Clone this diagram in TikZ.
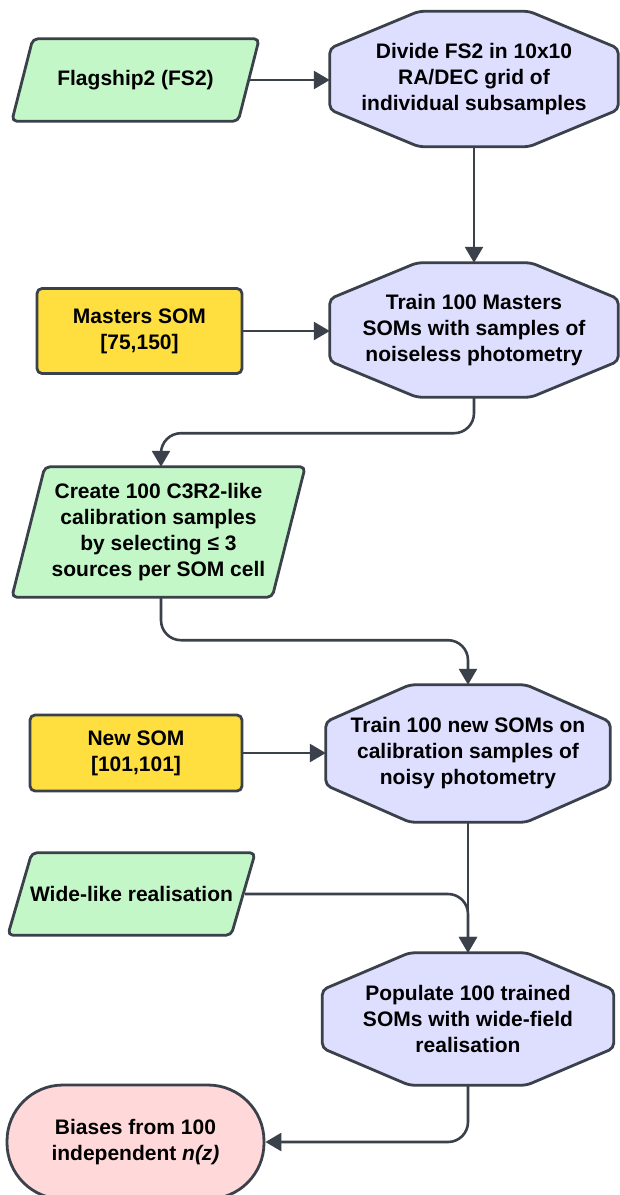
\documentclass[tikz,border=0pt]{standalone}
\usepackage{fontspec}
\setmainfont{Liberation Sans}
\usetikzlibrary{arrows.meta,calc,backgrounds}

\definecolor{edge}{HTML}{3A414A}
\definecolor{inputgreen}{HTML}{C3F7C8}
\definecolor{steplilac}{HTML}{DEDEFF}
\definecolor{paramyellow}{HTML}{FFDF40}
\definecolor{resultpink}{HTML}{FFD9D9}

\tikzset{
  box/.style={font=\fontsize{21}{26}\selectfont\bfseries, align=center, inner sep=0pt},
  outline/.style={draw=edge, line width=2.8pt, rounded corners=5pt, line join=round},
  parambox/.style={box, outline, fill=paramyellow},
  resultbox/.style={box, draw=edge, line width=2.8pt, fill=resultpink, rounded corners=56pt},
  conn/.style={draw=edge, line width=2.6pt, rounded corners=20pt,
    -{Triangle[length=16pt,width=18pt]}},
}

% parallelogram behind node #1, horizontal slant #2
\newcommand\parashape[2]{%
  \path[outline, fill=inputgreen]
    (#1.south west) -- ($(#1.north west)+(#2,0)$) -- (#1.north east)
    -- ($(#1.south east)+(-#2,0)$) -- cycle;}
% octagon behind node #1, chamfer #2 wide and #3 high
\newcommand\octshape[3]{%
  \path[outline, fill=steplilac]
    ($(#1.north west)+(#2,0)$) -- ($(#1.north east)+(-#2,0)$)
    -- ($(#1.north east)+(0,#3)$) -- ($(#1.south east)+(0,-#3)$)
    -- ($(#1.south east)+(-#2,0)$) -- ($(#1.south west)+(#2,0)$)
    -- ($(#1.south west)+(0,-#3)$) -- ($(#1.north west)+(0,#3)$) -- cycle;}

\begin{document}
\begin{tikzpicture}[x=1pt, y=-1pt]
\useasboundingbox (0,0) rectangle (620,1195);

% text nodes
\node[box, minimum width=247pt, minimum height=82pt] (fs2) at (135.5,80) {Flagship2 (FS2)};
\node[box, minimum width=288pt, minimum height=135pt] (div) at (474,79)
  {Divide FS2 in 10x10\\RA/DEC grid of\\individual subsamples};
\node[parambox, minimum width=205pt, minimum height=85pt] (mso) at (139.5,331)
  {Masters SOM\\{[}75,150{]}};
\node[box, minimum width=288pt, minimum height=134pt] (trm) at (474,330)
  {Train 100 Masters\\SOMs with samples of\\noiseless photometry};
\node[box, minimum width=293pt, minimum height=130pt] (c3) at (158.5,532)
  {Create 100 C3R2-like\\calibration samples\\by selecting ≤ 3\\sources per SOM cell};
\node[parambox, minimum width=212pt, minimum height=76pt] (nso) at (136,753)
  {New SOM\\{[}101,101{]}};
\node[box, minimum width=284pt, minimum height=137pt] (trn) at (468,753.5)
  {Train 100 new SOMs on\\calibration samples of\\noisy photometry};
\node[box, minimum width=247pt, minimum height=82pt] (wide) at (131.5,894)
  {Wide-like realisation};
\node[box, minimum width=291pt, minimum height=132pt] (pop) at (468,1019)
  {Populate 100 trained\\SOMs with wide-field\\realisation};
\node[resultbox, minimum width=257pt, minimum height=114pt] (bias) at (135.5,1142)
  {Biases from 100\\independent \textit{n(z)}};

% shapes behind the text
\begin{scope}[on background layer]
  \parashape{fs2}{21}
  \parashape{c3}{33}
  \parashape{wide}{24}
  \octshape{div}{89}{37}
  \octshape{trm}{87}{36}
  \octshape{trn}{84}{37}
  \octshape{pop}{87}{37}
\end{scope}

% connectors
\draw[conn] ($(fs2.east)+(-10,0)$) -- (fs2.east -| div.west);
\draw[conn] (div.south) -- (trm.north);
\draw[conn] (mso.east) -- (mso.east -| trm.west);
\draw[conn] (trm.south) -- ++(0,36) -| ($(c3.north)+(2.5,0)$);
\draw[conn] ($(c3.south)+(2.5,0)$) -- ++(0,43) -| (trn.north);
\draw[conn] (nso.east) -- (nso.east -| trn.west);
\draw[conn] (trn.south) -- (pop.north);
\draw[conn] ($(wide.east)+(-10,0)$) -| (pop.north);
\draw[conn] (pop.south) |- (bias.east);
\end{tikzpicture}
\end{document}
